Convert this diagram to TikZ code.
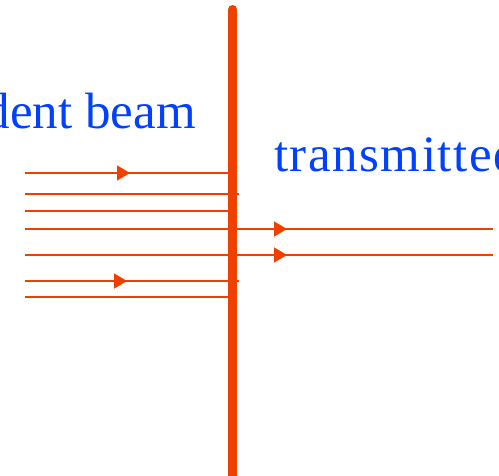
\documentclass[tikz,border=0pt]{standalone}
\usepackage{fontspec}
\setmainfont{Liberation Serif}
\usetikzlibrary{arrows.meta,decorations.markings}
\definecolor{beamcol}{RGB}{240,64,0}
\definecolor{textblue}{RGB}{0,64,255}
\tikzset{
  ray/.style={draw=beamcol,line width=1.8pt},
  arrowat/.style={postaction={decorate},decoration={markings,mark=at position #1 with {\arrow{Triangle[length=13pt,width=15pt]}}}},
  screen/.style={draw=beamcol,line width=9pt,line cap=round},
  lbl/.style={text=textblue,font=\fontsize{51}{60}\selectfont,inner sep=0pt}
}
\begin{document}
\begin{tikzpicture}[x=1pt,y=-1pt]
\useasboundingbox (0,0) rectangle (499,476);
\clip (0,0) rectangle (499,476);
% incident rays
\coordinate (l1) at (25,173); \coordinate (r1) at (232,173);
\coordinate (l2) at (25,194); \coordinate (r2) at (239,194);
\coordinate (l3) at (25,211); \coordinate (r3) at (232,211);
\coordinate (l4) at (25,229); \coordinate (r4) at (493,229);
\coordinate (l5) at (25,255); \coordinate (r5) at (493,255);
\coordinate (l6) at (25,281); \coordinate (r6) at (239,281);
\coordinate (l7) at (25,297); \coordinate (r7) at (232,297);
\draw[ray,arrowat=105pt] (l1) -- (r1);
\draw[ray] (l2) -- (r2);
\draw[ray] (l3) -- (r3);
\draw[ray,arrowat=262pt] (l4) -- (r4);
\draw[ray,arrowat=262pt] (l5) -- (r5);
\draw[ray,arrowat=102pt] (l6) -- (r6);
\draw[ray] (l7) -- (r7);
% screen
\coordinate (stop) at (232.5,9.5);
\coordinate (sbot) at (232.5,485);
\draw[screen] (stop) -- (sbot);
% labels
\node[lbl,anchor=base east] (inc) at (196,129) {incident beam};
\node[lbl,anchor=base west] (tra) at (274,172) {\addfontfeature{LetterSpace=3}transmitted beam};
\end{tikzpicture}
\end{document}
